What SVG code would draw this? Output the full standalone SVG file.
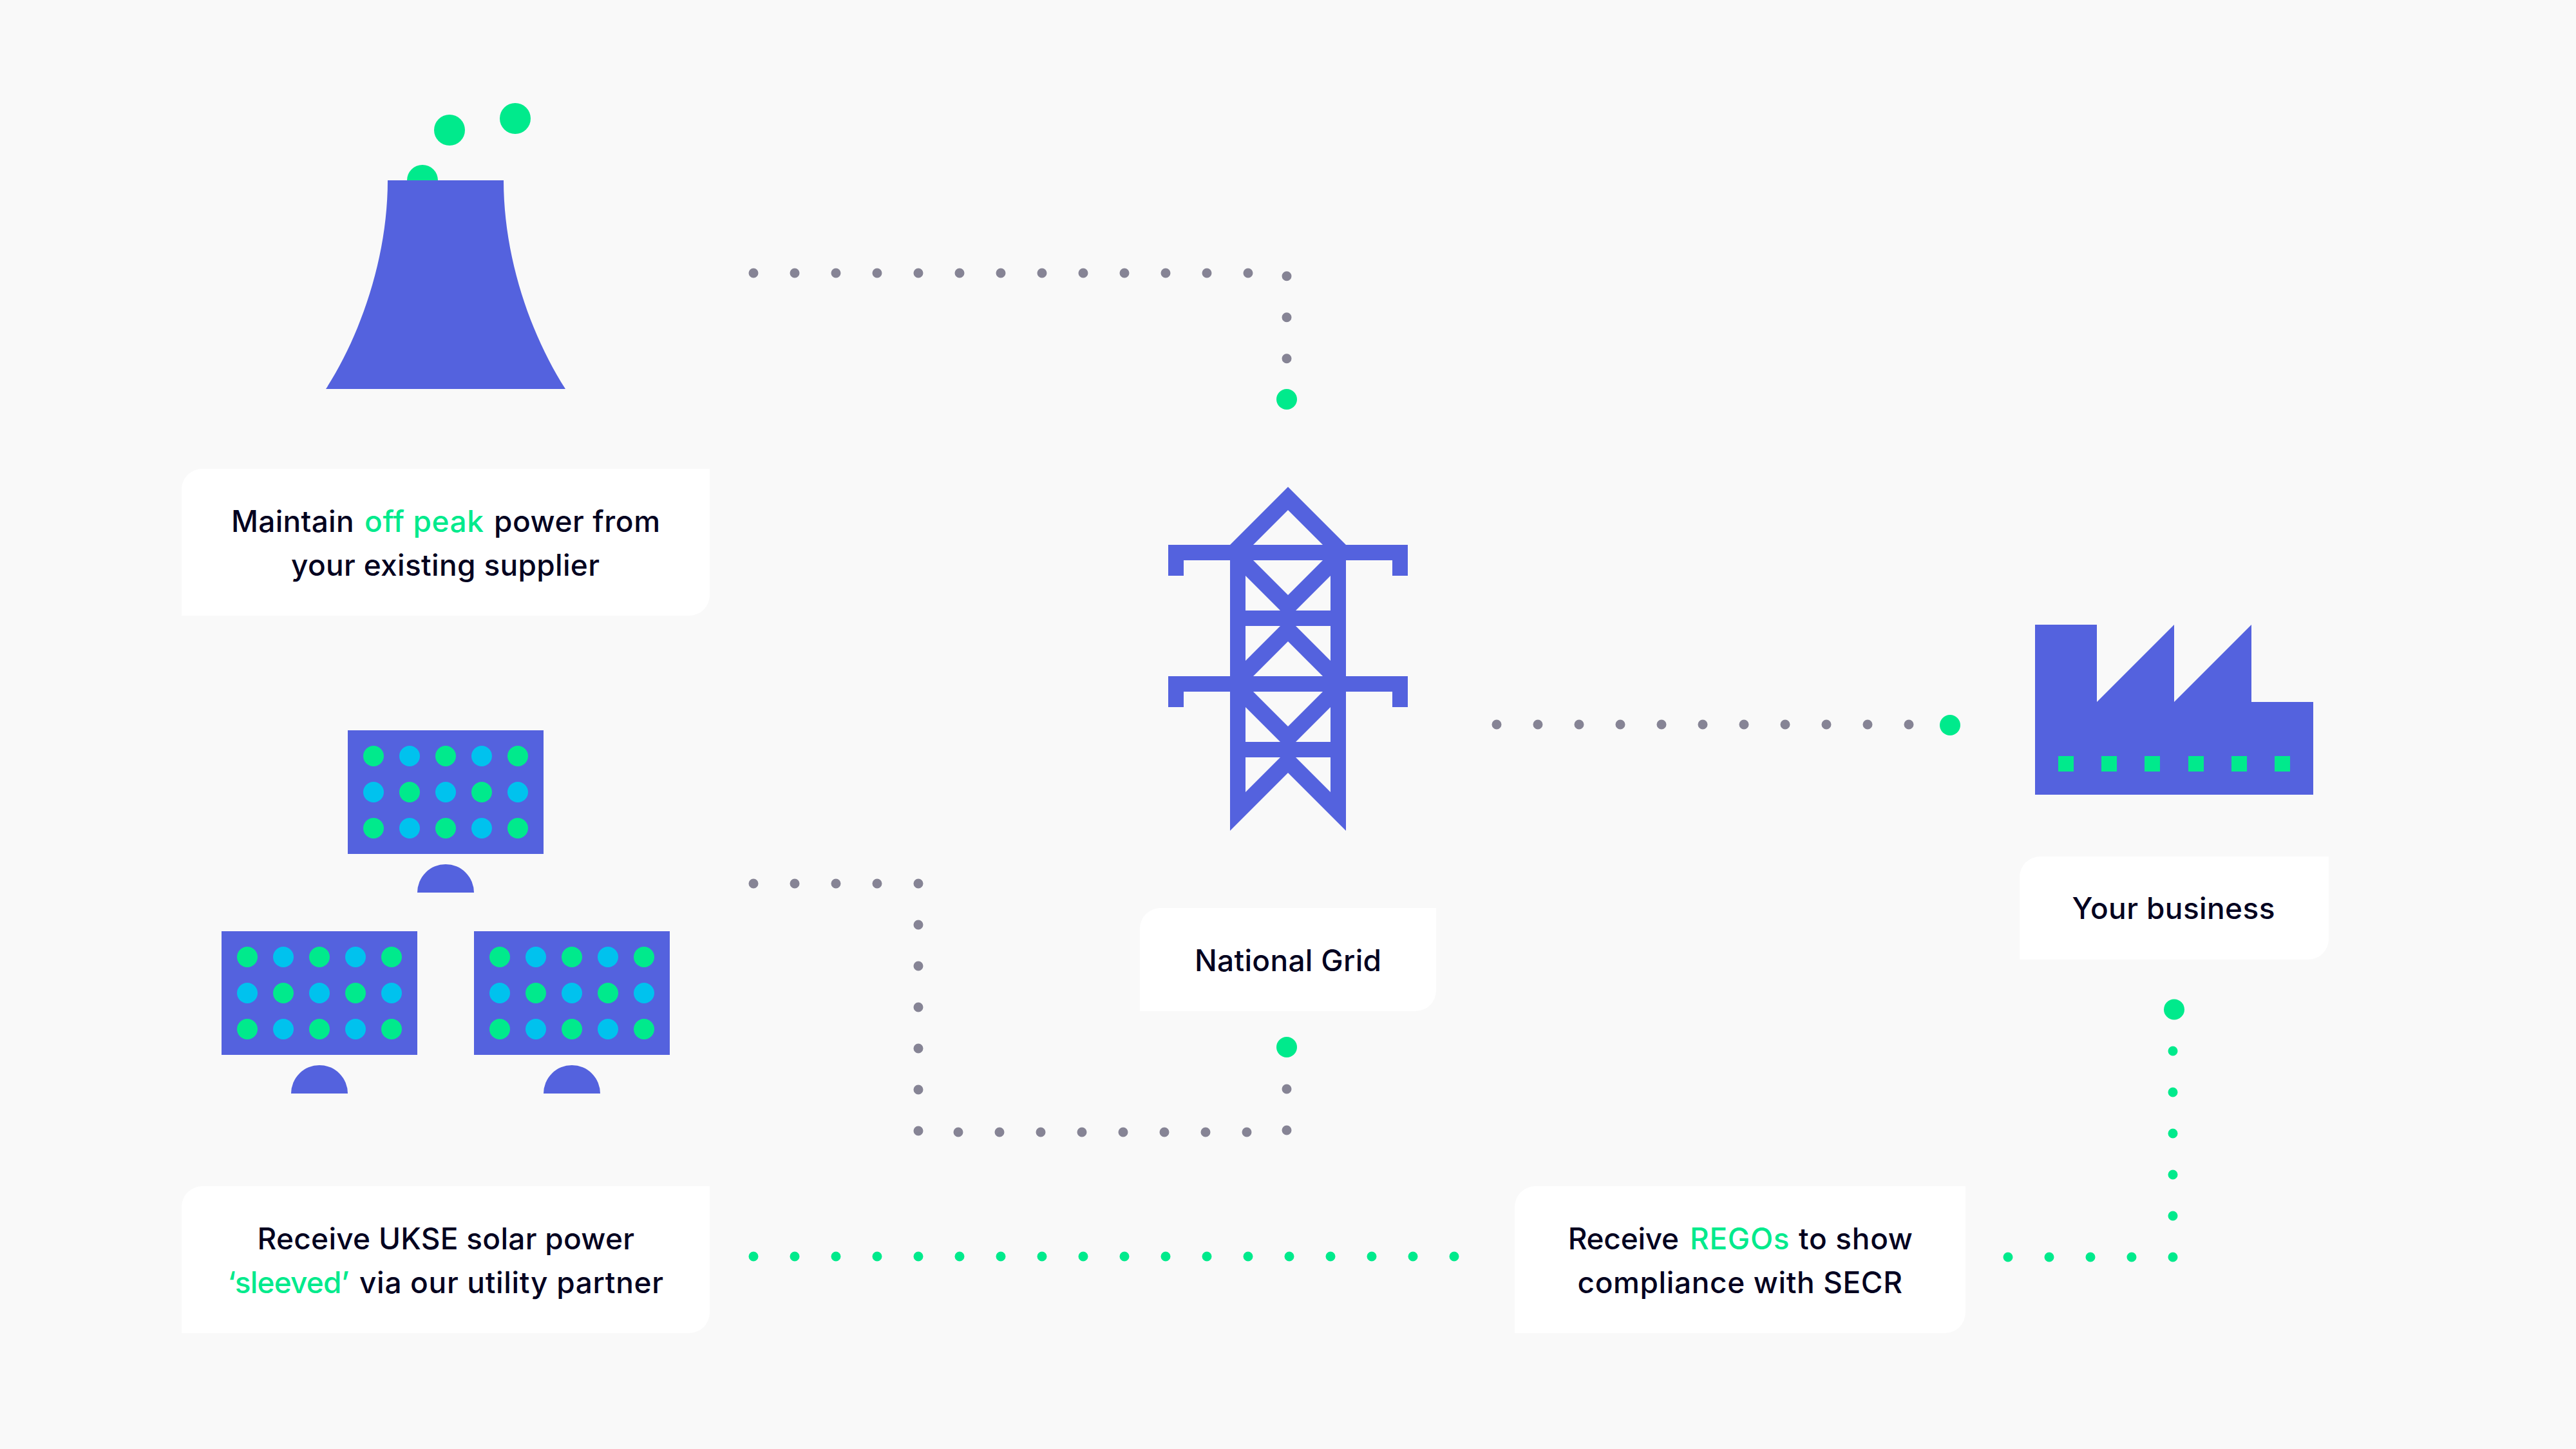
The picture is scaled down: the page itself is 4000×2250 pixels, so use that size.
<svg xmlns="http://www.w3.org/2000/svg" xmlns:xlink="http://www.w3.org/1999/xlink" width="4000" height="2250" viewBox="0 0 4000 2250">
<style>
.b{fill:#5462DE}.g{fill:#00EA8C}.c{fill:#00C2EE}.w{fill:#FFFFFF}
.gs{fill:#00EA8C}
.t{font-family:"Inter","Liberation Sans",sans-serif;font-size:46px;font-weight:500;fill:#04021F}
.dg{fill:none;stroke:#868495;stroke-width:15;stroke-linecap:round;stroke-dasharray:0 64}
.dn{fill:none;stroke:#00EA8C;stroke-width:15;stroke-linecap:round;stroke-dasharray:0 64}
</style>
<defs>
<g id="panel">
<rect class="b" x="0" y="0" width="304" height="192"/>
<circle class="g" cx="40" cy="40" r="16"/><circle class="c" cx="96" cy="40" r="16"/><circle class="g" cx="152" cy="40" r="16"/><circle class="c" cx="208" cy="40" r="16"/><circle class="g" cx="264" cy="40" r="16"/>
<circle class="c" cx="40" cy="96" r="16"/><circle class="g" cx="96" cy="96" r="16"/><circle class="c" cx="152" cy="96" r="16"/><circle class="g" cx="208" cy="96" r="16"/><circle class="c" cx="264" cy="96" r="16"/>
<circle class="g" cx="40" cy="152" r="16"/><circle class="c" cx="96" cy="152" r="16"/><circle class="g" cx="152" cy="152" r="16"/><circle class="c" cx="208" cy="152" r="16"/><circle class="g" cx="264" cy="152" r="16"/>
<path class="b" d="M108 252A44 44 0 0 1 196 252Z"/>
</g>
</defs>
<rect width="4000" height="2250" fill="#F9F9F9"/>
<g id="connectors">
<path class="dg" d="M1170 424H1939M1998 428.7V557"/>
<circle class="g" cx="1998" cy="620" r="16"/>
<path class="dg" d="M2324 1125H2965"/>
<circle class="g" cx="3028" cy="1126" r="16"/>
<path class="dg" d="M1170 1372H1427M1426 1436V1757M1488 1758H1937M1998 1691V1756"/>
<circle class="g" cx="1998" cy="1626" r="16"/>
<path class="dn" d="M1170 1951H2259"/>
<path class="dn" d="M3118 1952H3311M3374 1952V1631"/>
<circle class="g" cx="3376" cy="1567.500" r="16"/>
</g>
<g id="power-station">
<circle class="g" cx="656" cy="280" r="24"/>
<circle class="g" cx="698" cy="202" r="24"/>
<circle class="g" cx="800" cy="184" r="24"/>
<path class="b" d="M602 280H782C782 400 824 520 878 604H506C560 520 602 400 602 280Z"/>
<path class="w" d="M314 728H1102V924A32 32 0 0 1 1070 956H282V760A32 32 0 0 1 314 728Z"/>
<text class="t" y="826"><tspan x="359" textLength="190.600">Maintain</tspan> <tspan class="gs" x="566" textLength="185">off peak</tspan> <tspan x="767" textLength="258">power from</tspan></text>
<text class="t" x="452" y="894" textLength="479">your existing supplier</text>
</g>
<g id="solar">
<use xlink:href="#panel" href="#panel" x="540" y="1134"/>
<use xlink:href="#panel" href="#panel" x="344" y="1446"/>
<use xlink:href="#panel" href="#panel" x="736" y="1446"/>
<path class="w" d="M314 1842H1102V2038A32 32 0 0 1 1070 2070H282V1874A32 32 0 0 1 314 1842Z"/>
<text class="t" x="399.500" y="1940" textLength="585.500">Receive UKSE solar power</text>
<text class="t" y="2008"><tspan class="gs" x="353.600" textLength="188.800">‘sleeved’</tspan> <tspan x="558" textLength="472">via our utility partner</tspan></text>
</g>
<g id="national-grid">
<path class="b" fill-rule="evenodd" d="M2000 756L2090 846H2186V894H2162V870H2090V1050H2186V1098H2162V1074H2090V1290L2000 1200L1910 1290V1074H1838V1098H1814V1050H1910V870H1838V894H1814V846H1910Z
M1946 846L2000 792L2054 846Z
M1946 870H2054L2000 924Z
M1934 894L1988 948H1934Z
M2066 894L2012 948H2066Z
M1934 972H1988L1934 1026Z
M2066 972H2012L2066 1026Z
M2000 996L2054 1050H1946Z
M1946 1074H2054L2000 1128Z
M1934 1098L1988 1152H1934Z
M2066 1098L2012 1152H2066Z
M1934 1176H1988L1934 1230Z
M2066 1176H2012L2066 1230Z"/>
<path class="w" d="M1802 1410H2230V1538A32 32 0 0 1 2198 1570H1770V1442A32 32 0 0 1 1802 1410Z"/>
<text class="t" x="1855" y="1508" textLength="290">National Grid</text>
</g>
<g id="your-business">
<path class="b" d="M3160 970H3256V1090L3376 970V1090L3496 970V1090H3592V1234H3160Z"/>
<rect class="g" x="3196" y="1174" width="24" height="24"/>
<rect class="g" x="3263" y="1174" width="24" height="24"/>
<rect class="g" x="3330" y="1174" width="24" height="24"/>
<rect class="g" x="3398" y="1174" width="24" height="24"/>
<rect class="g" x="3465" y="1174" width="24" height="24"/>
<rect class="g" x="3532" y="1174" width="24" height="24"/>
<path class="w" d="M3168 1330H3616V1458A32 32 0 0 1 3584 1490H3136V1362A32 32 0 0 1 3168 1330Z"/>
<text class="t" x="3217.500" y="1427" textLength="315">Your business</text>
</g>
<g id="regos">
<path class="w" d="M2384 1842H3052V2038A32 32 0 0 1 3020 2070H2352V1874A32 32 0 0 1 2384 1842Z"/>
<text class="t" y="1940"><tspan x="2434.700" textLength="172.300">Receive</tspan> <tspan class="gs" x="2624" textLength="154.600">REGOs</tspan> <tspan x="2793" textLength="177">to show</tspan></text>
<text class="t" x="2449.500" y="2008" textLength="504.500">compliance with SECR</text>
</g>
</svg>
